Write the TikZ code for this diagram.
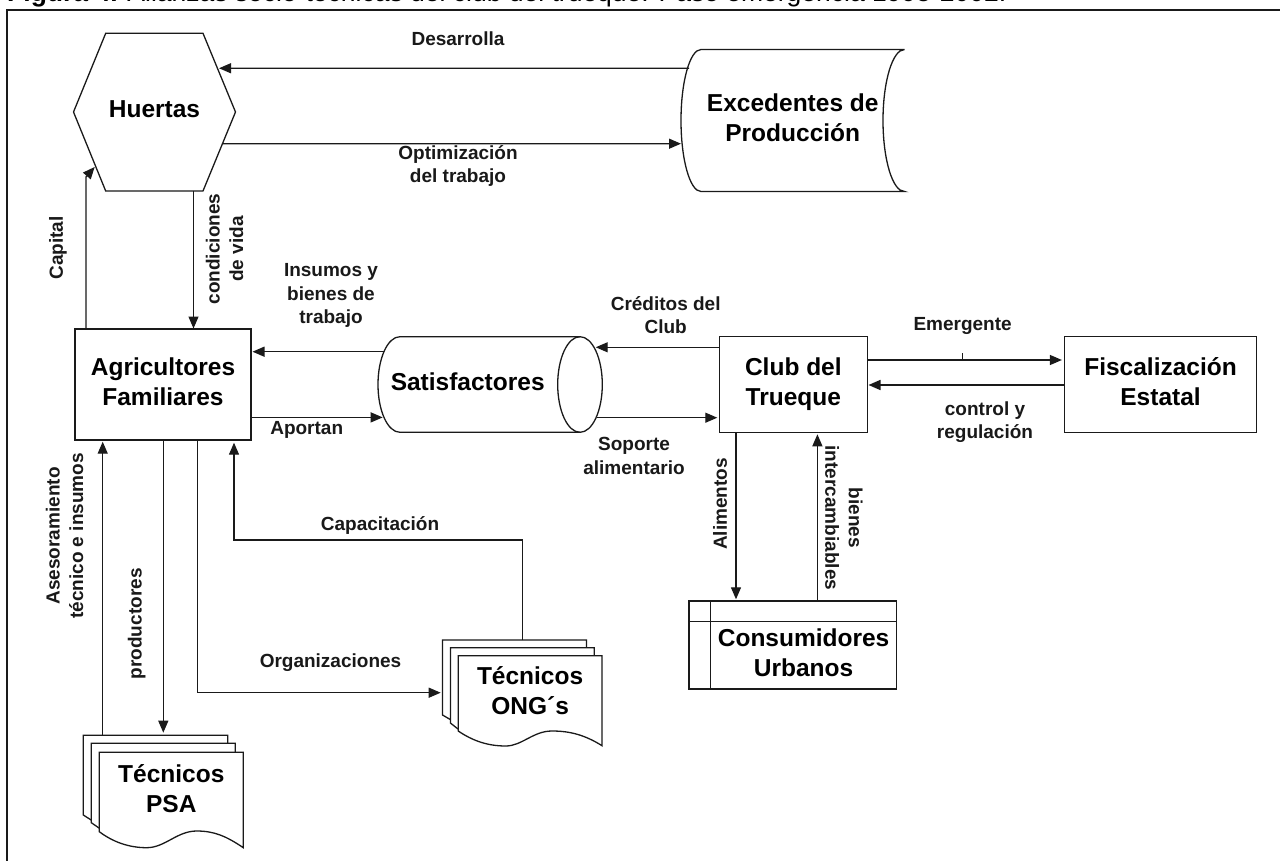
\documentclass[tikz,border=0pt]{standalone}
\usepackage{fontspec}
\setmainfont{Liberation Sans}
\usetikzlibrary{arrows.meta}
\newcommand{\lift}{\\[-24pt]\mbox{}}
\tikzset{
  big/.style={font=\fontsize{24.5}{30}\selectfont\bfseries,align=center,inner sep=0pt,outer sep=0pt,text=black},
  shapebox/.style={big,draw=none},
  boxed/.style={big,draw=ink,line width=1.3pt},
  lab/.style={font=\fontsize{19}{23.5}\selectfont\bfseries,align=center,inner sep=0pt,outer sep=0pt,text=black!90},
  outline/.style={draw=ink,line width=1.3pt,line join=miter},
  sheet/.style={outline,fill=white},
  arr/.style={draw=ink,line width=1.3pt,-{Triangle[length=12pt,width=10pt]}},
  plain/.style={draw=ink,line width=1.3pt},
}
\definecolor{ink}{HTML}{1A1A1A}
\begin{document}
\begin{tikzpicture}[x=1pt,y=-1pt]
\clip (0,0) rectangle (1280,861);
\fill[white] (0,0) rectangle (1280,861);
% caption and frame
\node[anchor=base west,inner sep=0pt,font=\fontsize{26.5}{30}\selectfont] (cap) at (7,1.5) {\textbf{Figura 4.} Alianzas socio-técnicas del club del trueque. Paso emergencia 1995-2002.};
\draw[draw=ink,line width=2pt] (7,861) -- (7,10) -- (1280,10);
% shapes drawn directly
\path[outline] (73.5,112) -- (105.7,33.3) -- (203,33.3) -- (235.5,112) -- (203,191) -- (105.7,191) -- cycle;
\path[outline] (904.5,49.5) -- (701,49.5) .. controls (690,49.5) and (681,81.3) .. (681,120.5) .. controls (681,159.7) and (690,191.5) .. (701,191.5) -- (904.5,191.5) .. controls (892.6,191.5) and (883,159.7) .. (883,120.5) .. controls (883,81.3) and (892.6,49.5) .. (904.5,49.5);
\path[outline] (580,336.7) -- (400,336.7) .. controls (387.7,336.7) and (378,358.1) .. (378,384.5) .. controls (378,410.9) and (387.7,432.3) .. (400,432.3) -- (580,432.3);
\draw[outline] (580,384.5) ellipse [x radius=22.3,y radius=47.8];
\path[outline] (689,601) rectangle (896.8,689);
\path[outline] (689,621.7) -- (896.8,621.7) (710.4,601) -- (710.4,689);
% ONG sheets
\path[sheet] (442.5,715) -- (442.5,640) -- (586.4,640) -- (586.4,700) -- (458,724) -- cycle;
\path[sheet] (450.4,723) -- (450.4,647.7) -- (594.3,647.7) -- (594.3,700) -- (458,729) -- cycle;
\path[sheet] (458.2,731) -- (458.2,655.7) -- (602,655.7) -- (602,745.7) .. controls (585,735) and (570,731) .. (552,731) .. controls (533,731) and (522,746) .. (505.7,746) .. controls (488,746) and (473,741) .. (458.2,731) -- cycle;
% PSA sheets
\path[sheet] (83.3,815) -- (83.3,735.3) -- (227.7,735.3) -- (227.7,800) -- (99,825) -- cycle;
\path[sheet] (91.3,822.7) -- (91.3,743.3) -- (235.3,743.3) -- (235.3,800) -- (99,828) -- cycle;
\path[sheet] (99.3,831.7) -- (99.3,752.3) -- (243.3,752.3) -- (243.3,847.7) .. controls (226,836) and (214,831) .. (196.7,831) .. controls (177,831) and (165,847.7) .. (146.7,847.7) .. controls (129,847.7) and (113,842) .. (99.3,831.7) -- cycle;
% nodes
\node[shapebox,minimum width=162pt,minimum height=157.7pt] (hue) at (154.5,112.1) {Huertas\lift};
\node[shapebox,minimum width=223.5pt,minimum height=142pt] (exc) at (792.75,120.5) {Excedentes de\\Producción\lift};
\node[boxed,minimum width=176pt,minimum height=111pt] (agri) at (163,384.5) {Agricultores\\Familiares\lift};
\node[shapebox,minimum width=179.4pt,minimum height=95.6pt] (sat) at (467.7,384.5) {Satisfactores\lift};
\node[boxed,minimum width=148.1pt,minimum height=95.6pt] (club) at (793.35,384.5) {Club del\\Trueque\lift};
\node[boxed,minimum width=192.3pt,minimum height=95.6pt] (fis) at (1160.55,384.5) {Fiscalización\\Estatal\lift};
\node[big,draw=none,minimum width=186.4pt,minimum height=67.3pt] (con) at (803.6,655.35) {Consumidores\\Urbanos\lift};
\node[shapebox,minimum width=143.8pt,minimum height=70pt] (ong) at (530.1,690.7) {Técnicos\\ONG´s};
\node[shapebox,minimum width=144pt,minimum height=73pt] (psa) at (171.3,788.8) {Técnicos\\PSA};
% connectors
\draw[arr] ([xshift=8pt,yshift=-18.8pt]exc.north west) -- ([xshift=-16.5pt,yshift=-35pt]hue.north east);
\draw[arr] ([xshift=-13.1pt,yshift=-31.7pt]hue.east) -- ([yshift=-23.2pt]exc.west);
\draw[arr] ([xshift=11pt]agri.north west) -- ([xshift=12.5pt,yshift=14pt]hue.south west) -- ([xshift=21.2pt,yshift=24pt]hue.south west);
\draw[arr] ([xshift=39pt]hue.south) -- ([xshift=30.5pt,yshift=.5pt]agri.north);
\draw[arr] ([xshift=6pt,yshift=32.8pt]sat.west) -- ([xshift=1.5pt,yshift=32.8pt]agri.east);
\draw[arr] ([yshift=-32.9pt]agri.east) -- ([xshift=4.7pt,yshift=-32.9pt]sat.west);
\draw[arr] ([yshift=37.2pt]club.west) -- ([xshift=38.3pt,yshift=37.2pt]sat.east);
\draw[arr] ([xshift=39.3pt,yshift=-33.2pt]sat.east) -- ([xshift=-2pt,yshift=-33.2pt]club.west);
\draw[arr] ([yshift=24.5pt]club.east) -- coordinate[pos=.489] (tick) ([xshift=-2.5pt,yshift=24.5pt]fis.west);
\draw[plain,line width=1pt] (tick) -- ++(0,-7.4);
\draw[arr,line width=1.7pt] ([yshift=-.5pt]fis.west) -- ([xshift=1.1pt,yshift=-.5pt]club.east);
\draw[arr] ([xshift=16.7pt]club.south west) -- ([xshift=25.6pt,yshift=22.4pt]con.north west);
\draw[arr] ([xshift=107pt,yshift=20.7pt]con.north west) -- ([xshift=98.1pt,yshift=-2pt]club.south west);
\draw[arr] ([xshift=-68.6pt,yshift=17pt]psa.north) -- ([xshift=-60.3pt,yshift=-1.7pt]agri.south);
\draw[arr] ([xshift=.3pt]agri.south) -- ([xshift=-8pt,yshift=19.6pt]psa.north);
\draw[arr] ([xshift=34.7pt]agri.south) |- ([xshift=-17.5pt,yshift=-2pt]ong.west);
\draw[arr] ([xshift=-7.5pt,yshift=15.7pt]ong.north) -- ++(0,-100) -| ([xshift=71pt,yshift=-2.7pt]agri.south);
% labels
\node[lab] (l1) at (458,38.5) {Desarrolla};
\node[lab] (l2) at (458,166) {Optimización\\del trabajo};
\node[lab,rotate=90] (l3) at (58,248) {Capital};
\node[lab,rotate=90] (l4) at (224.5,249) {condiciones\\de vida};
\node[lab] (l5) at (331,295.5) {Insumos y\\bienes de\\trabajo};
\node[lab] (l6) at (306.7,430) {Aportan};
\node[lab] (l7) at (665.7,315) {Créditos del\\Club};
\node[lab] (l8) at (634,456) {Soporte\\alimentario};
\node[lab] (l9) at (962.6,326) {Emergente};
\node[lab] (l10) at (985,422) {control y\\regulación};
\node[lab,rotate=90] (l11) at (720,504) {Alimentos};
\node[lab,rotate=-90] (l12) at (844,518) {bienes\\intercambiables};
\node[lab,rotate=90] (l13) at (64.7,536) {Asesoramiento\\técnico e insumos};
\node[lab,rotate=90] (l14) at (136.7,623.8) {productores};
\node[lab] (l15) at (330.5,662.7) {Organizaciones};
\node[lab] (l16) at (380,525.7) {Capacitación};
\end{tikzpicture}
\end{document}
